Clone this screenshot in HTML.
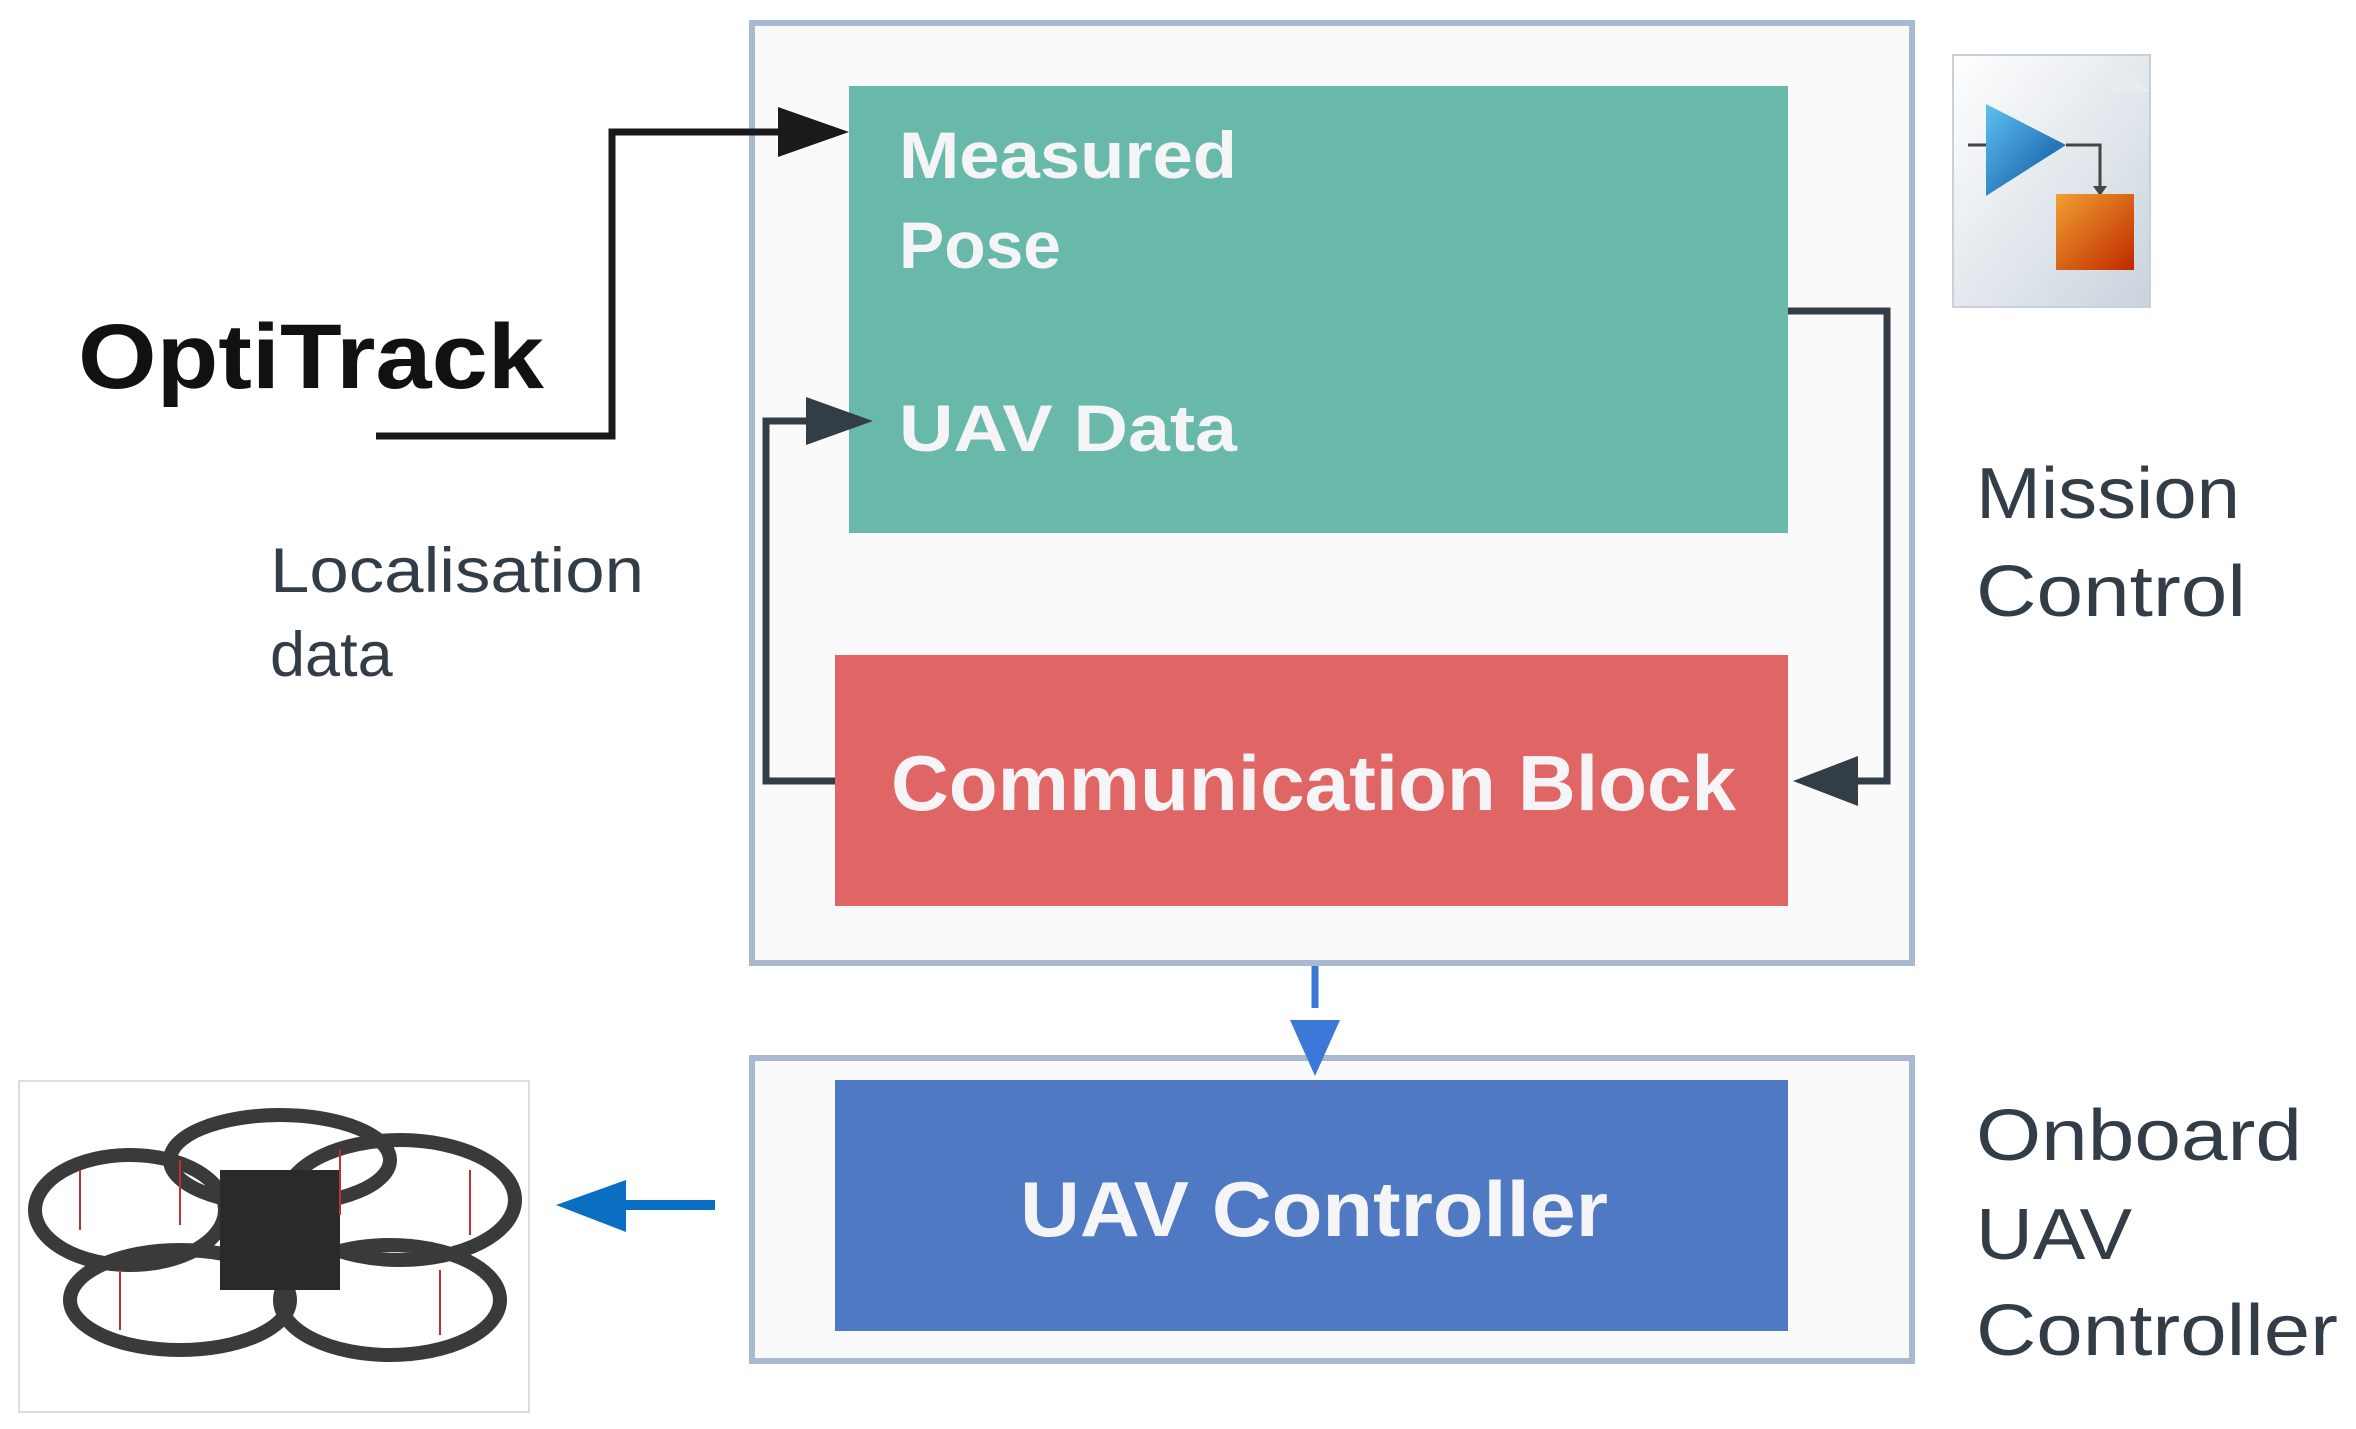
<!DOCTYPE html>
<html><head><meta charset="utf-8"><style>
html,body{margin:0;padding:0;background:#fff;}
svg{display:block;font-family:"Liberation Sans",sans-serif;}
</style></head><body>
<svg width="2356" height="1429" viewBox="0 0 2356 1429" xmlns="http://www.w3.org/2000/svg">
<defs>
<linearGradient id="doc" x1="0" y1="0" x2="1" y2="1"><stop offset="0" stop-color="#ffffff"/><stop offset="1" stop-color="#c9d3dd"/></linearGradient>
<linearGradient id="tri" x1="0" y1="0" x2="1" y2="1"><stop offset="0" stop-color="#5fc1f0"/><stop offset="1" stop-color="#0a4f9e"/></linearGradient>
<linearGradient id="sq" x1="0" y1="0" x2="1" y2="1"><stop offset="0" stop-color="#f0a030"/><stop offset="1" stop-color="#c02800"/></linearGradient>
</defs>
<rect x="752" y="23" width="1160" height="940" fill="#fafafa" stroke="#a9bad0" stroke-width="6"/>
<rect x="752" y="1058" width="1160" height="303" fill="#fafafa" stroke="#a9bad0" stroke-width="6"/>
<rect x="849" y="86" width="939" height="447" fill="#69b9ab"/>
<rect x="835" y="655" width="953" height="251" fill="#e06666"/>
<rect x="835" y="1080" width="953" height="251" fill="#4f7ac3"/>
<g fill="#f5f5f7" font-weight="bold">
<text x="899" y="178" font-size="66" textLength="338" lengthAdjust="spacingAndGlyphs">Measured</text>
<text x="899" y="268" font-size="66" textLength="162" lengthAdjust="spacingAndGlyphs">Pose</text>
<text x="899" y="451" font-size="66" textLength="338" lengthAdjust="spacingAndGlyphs">UAV Data</text>
<text x="891" y="810" font-size="78" textLength="845" lengthAdjust="spacingAndGlyphs">Communication Block</text>
<text x="1020" y="1236" font-size="78" textLength="588" lengthAdjust="spacingAndGlyphs">UAV Controller</text>
</g>
<text x="78" y="388" font-size="92" font-weight="bold" fill="#111" textLength="466" lengthAdjust="spacingAndGlyphs">OptiTrack</text>
<g fill="#333d47" font-size="63">
<text x="270" y="592" textLength="374" lengthAdjust="spacingAndGlyphs">Localisation</text>
<text x="270" y="676">data</text>
</g>
<g fill="#333d47" font-size="72">
<text x="1976" y="518" textLength="264" lengthAdjust="spacingAndGlyphs">Mission</text>
<text x="1976" y="616" textLength="270" lengthAdjust="spacingAndGlyphs">Control</text>
<text x="1976" y="1160" textLength="326" lengthAdjust="spacingAndGlyphs">Onboard</text>
<text x="1976" y="1259" textLength="156" lengthAdjust="spacingAndGlyphs">UAV</text>
<text x="1976" y="1355" textLength="362" lengthAdjust="spacingAndGlyphs">Controller</text>
</g>
<polyline points="376,436 612,436 612,132 785,132" fill="none" stroke="#1a1a1a" stroke-width="7"/>
<polygon points="778,107 849,132 778,157" fill="#1a1a1a"/>
<polyline points="835,781 766,781 766,421 815,421" fill="none" stroke="#333d47" stroke-width="7"/>
<polygon points="806,397 873,421 806,445" fill="#333d47"/>
<polyline points="1788,311 1887,311 1887,781 1850,781" fill="none" stroke="#333d47" stroke-width="7"/>
<polygon points="1858,756 1793,781 1858,806" fill="#333d47"/>
<line x1="1315" y1="966" x2="1315" y2="1008" stroke="#3c78d8" stroke-width="7"/>
<polygon points="1290,1020 1340,1020 1315,1076" fill="#3c78d8"/>
<line x1="715" y1="1205" x2="620" y2="1205" stroke="#0a6fc2" stroke-width="10"/>
<polygon points="626,1180 556,1205 626,1232" fill="#0a6fc2"/>
<rect x="1953" y="55" width="197" height="252" fill="url(#doc)" stroke="#c8d0d8" stroke-width="2"/>
<polygon points="2113,55 2150,92 2113,92" fill="#e8ecef"/>
<line x1="1968" y1="145" x2="1990" y2="145" stroke="#444" stroke-width="3"/>
<polygon points="1986,104 2066,145 1986,196" fill="url(#tri)"/>
<polyline points="2066,145 2100,145 2100,190" fill="none" stroke="#444" stroke-width="3"/>
<polygon points="2093,186 2107,186 2100,196" fill="#444"/>
<rect x="2056" y="194" width="78" height="76" fill="url(#sq)"/>
<rect x="19" y="1081" width="510" height="331" fill="#fff" stroke="#dddddd" stroke-width="2"/>
<g fill="none" stroke="#3a3a3a" stroke-width="14">
<ellipse cx="130" cy="1210" rx="95" ry="55"/>
<ellipse cx="400" cy="1200" rx="115" ry="60"/>
<ellipse cx="180" cy="1300" rx="110" ry="50"/>
<ellipse cx="390" cy="1300" rx="110" ry="55"/>
<ellipse cx="280" cy="1160" rx="110" ry="45"/>
</g>
<rect x="220" y="1170" width="120" height="120" fill="#2a2a2a"/>
<g stroke="#c03030" stroke-width="2">
<line x1="80" y1="1170" x2="80" y2="1230"/><line x1="180" y1="1160" x2="180" y2="1225"/>
<line x1="340" y1="1150" x2="340" y2="1215"/><line x1="470" y1="1170" x2="470" y2="1235"/>
<line x1="120" y1="1270" x2="120" y2="1330"/><line x1="440" y1="1270" x2="440" y2="1335"/>
</g>
</svg>
</body></html>
